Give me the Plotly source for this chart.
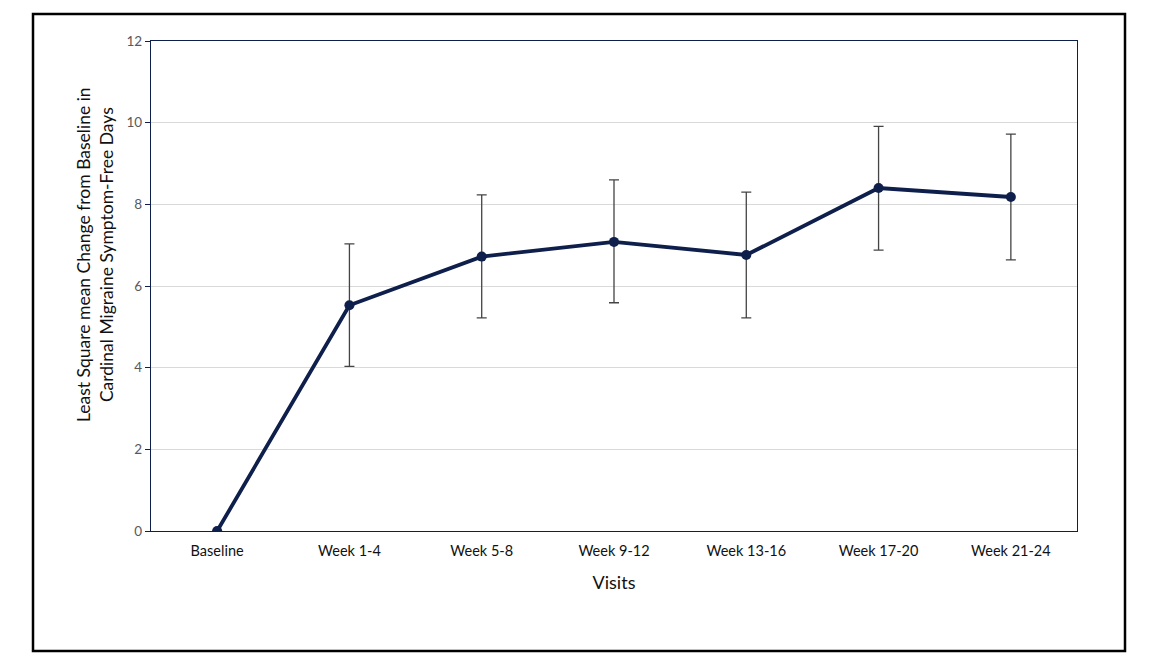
import plotly.graph_objects as go

visits = ["Baseline", "Week 1-4", "Week 5-8", "Week 9-12", "Week 13-16", "Week 17-20", "Week 21-24"]
ls_mean = [0.0, 5.53, 6.72, 7.08, 6.76, 8.40, 8.18]
err_upper = [0.0, 1.50, 1.51, 1.52, 1.54, 1.51, 1.54]
err_lower = [0.0, 1.50, 1.50, 1.49, 1.54, 1.52, 1.54]
y_ticks = [0, 2, 4, 6, 8, 10, 12]

navy = "#0e1f4b"
font_family = "Lato, 'Open Sans', sans-serif"

fig = go.Figure()
fig.add_trace(go.Scatter(
    x=visits, y=ls_mean,
    mode="lines+markers",
    line=dict(color=navy, width=3.8),
    marker=dict(color=navy, size=10),
    error_y=dict(type="data", symmetric=False, array=err_upper, arrayminus=err_lower,
                 color="#444444", thickness=1.3, width=5),
    showlegend=False,
))

L, R, T, B = 151, 78, 41, 134
pw = 1155 - L - R
ph = 665 - T - B

def px(x):
    return (x - L) / pw

def py(y):
    return (665 - B - y) / ph

fig.update_layout(
    width=1155, height=665,
    margin=dict(l=L, r=R, t=T, b=B),
    paper_bgcolor="white", plot_bgcolor="white",
    font=dict(family=font_family, size=13, color="#000000"),
    xaxis=dict(
        type="category", range=[-0.5, 6.5],
        showline=True, linecolor=navy, linewidth=1.2, mirror=True,
        showgrid=False, ticks="", ticklabelstandoff=6,
        tickfont=dict(size=14.5, color="#111111"),
        title=dict(text="Visits", font=dict(size=18, color="#111111"), standoff=18),
    ),
    yaxis=dict(
        range=[0, 12], tickvals=y_ticks,
        showline=True, linecolor=navy, linewidth=1.2, mirror=True,
        showgrid=True, gridcolor="#d9d9d9", gridwidth=1,
        ticks="outside", ticklen=5, tickcolor=navy,
        tickfont=dict(size=13.5, color="#595959"),
        zeroline=False,
    ),
    annotations=[dict(
        text="Least Square mean Change from Baseline in<br>Cardinal Migraine Symptom-Free Days",
        xref="paper", yref="paper", x=px(95), y=py(255),
        xanchor="center", yanchor="middle", textangle=-90, showarrow=False,
        font=dict(size=17.5, color="#111111"),
    )],
    shapes=[dict(type="rect", xref="paper", yref="paper",
                 x0=px(33), x1=px(1125), y0=py(651), y1=py(14),
                 line=dict(color="black", width=2.5), fillcolor="rgba(0,0,0,0)", layer="above")],
)

fig.write_html("out.html")
